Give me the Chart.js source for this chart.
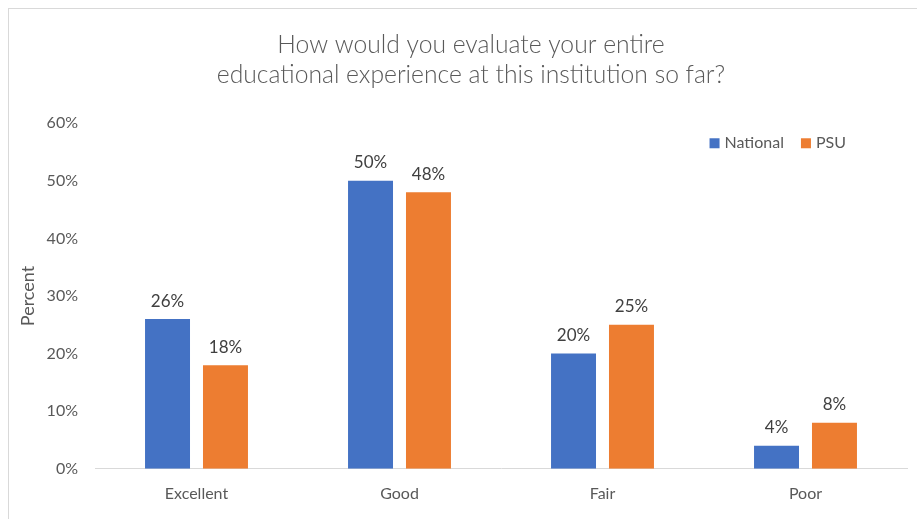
<!DOCTYPE html>
<html>
<head>
<meta charset="utf-8">
<script src="https://cdn.jsdelivr.net/npm/chart.js@4"></script>
<style>
  html, body { margin: 0; padding: 0; background: #fff; }
  #wrap { position: absolute; left: 0; top: 0; width: 917px; height: 519px; }
  #frame { position: absolute; left: 8px; top: 8px; width: 1000px; height: 600px;
           border-left: 1px solid #d9d9d9; border-top: 1px solid #d9d9d9; pointer-events: none; }
</style>
</head>
<body>
<div id="wrap"><canvas id="chart1" width="917" height="519"></canvas></div>
<div id="frame"></div>
<script>
const categories = ["Excellent", "Good", "Fair", "Poor"];
const nationalValues = [26, 50, 20, 4];
const psuValues = [18, 48, 25, 8];
const yTicks = [0, 10, 20, 30, 40, 50, 60];

const textColor = '#595959';
const fontFamily = 'Lato, "Open Sans", sans-serif';

// draws the percent labels above each bar
const barLabels = {
    id: 'barLabels',
    afterDatasetsDraw(chart) {
        const ctx = chart.ctx;
        ctx.save();
        ctx.font = '17px ' + fontFamily;
        ctx.fillStyle = '#404040';
        ctx.textAlign = 'center';
        ctx.textBaseline = 'middle';
        chart.data.datasets.forEach((ds, i) => {
            chart.getDatasetMeta(i).data.forEach((bar, j) => {
                ctx.fillText(ds.data[j] + '%', bar.x, bar.y - 18);
            });
        });
        ctx.restore();
    }
};

// legend drawn inside the plot, top right, like the Excel one
const insideLegend = {
    id: 'insideLegend',
    afterDraw(chart) {
        const ctx = chart.ctx;
        const area = chart.chartArea;
        const box = 10, gapBox = 5, gapItem = 17;
        ctx.save();
        ctx.font = '16px ' + fontFamily;
        ctx.textBaseline = 'middle';
        const items = chart.data.datasets.map(ds => ({ label: ds.label, color: ds.backgroundColor,
            w: ctx.measureText(ds.label).width }));
        let total = items.reduce((s, it) => s + box + gapBox + it.w, 0) + gapItem * (items.length - 1);
        let x = area.right - 61 - total;
        const y = area.top + 20;
        items.forEach(it => {
            ctx.fillStyle = it.color;
            ctx.fillRect(x, y - box / 2, box, box);
            x += box + gapBox;
            ctx.fillStyle = textColor;
            ctx.fillText(it.label, x, y);
            x += it.w + gapItem;
        });
        ctx.restore();
    }
};

new Chart("chart1", {
    type: "bar",
    data: {
        labels: categories,
        datasets: [{
            label: 'National',
            data: nationalValues,
            backgroundColor: '#4472C4',
            barPercentage: 0.776,
            categoryPercentage: 0.571
        }, {
            label: 'PSU',
            data: psuValues,
            backgroundColor: '#ED7D31',
            barPercentage: 0.776,
            categoryPercentage: 0.571
        }]
    },
    plugins: [barLabels, insideLegend],
    options: {
        responsive: false,
        animation: false,
        layout: { padding: { left: 35, right: 10, top: 30, bottom: 1 } },
        plugins: {
            title: {
                display: true,
                text: ['How would you evaluate your entire', 'educational experience at this institution so far?'],
                color: textColor,
                font: { family: fontFamily, size: 24.7, weight: '300', lineHeight: 1.22 },
                padding: { top: 0, bottom: 33 }
            },
            legend: { display: false },
            tooltip: { enabled: false }
        },
        scales: {
            x: {
                grid: { display: false, drawTicks: false },
                border: { color: '#d9d9d9', width: 1 },
                ticks: { color: textColor, font: { family: fontFamily, size: 16 }, padding: 15 }
            },
            y: {
                min: 0,
                max: 60,
                afterBuildTicks(axis) { axis.ticks = yTicks.map(v => ({ value: v })); },
                afterFit(axis) { axis.width = 60; },
                grid: { display: false, drawTicks: false },
                border: { display: false },
                ticks: {
                    color: textColor,
                    font: { family: fontFamily, size: 16 },
                    padding: 17,
                    callback: v => v + '%'
                },
                title: {
                    display: true,
                    text: 'Percent',
                    color: textColor,
                    font: { family: fontFamily, size: 18 },
                    padding: { top: -18, bottom: 4 }
                }
            }
        }
    }
});
</script>
</body>
</html>
